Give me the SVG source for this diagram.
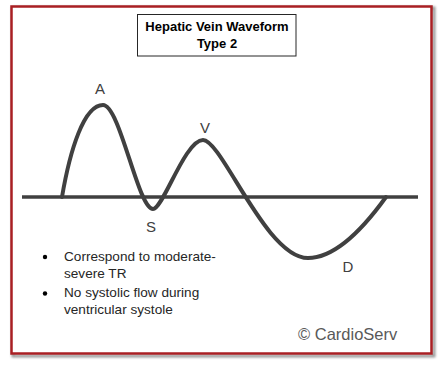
<svg xmlns="http://www.w3.org/2000/svg" width="444" height="367" viewBox="0 0 444 367">
<defs>
<style>
.lbl{font-family:"Liberation Sans",Arial,sans-serif;fill:#404040;font-size:15px;text-anchor:middle}
.body{font-family:"Liberation Sans",Arial,sans-serif;fill:#262626;font-size:13.6px}
.title{font-family:"Liberation Sans",Arial,sans-serif;fill:#000;font-size:13px;font-weight:bold;text-anchor:middle}
.wave{fill:none;stroke:#404040;stroke-width:4;stroke-linecap:round;stroke-linejoin:round}
</style>
<filter id="sh" x="-5%" y="-5%" width="110%" height="110%"><feGaussianBlur stdDeviation="1.2"/></filter>
</defs>
<rect width="444" height="367" fill="#fff"/>
<g id="frame">
<rect x="13" y="8" width="421" height="348" fill="none" stroke="#9a9a9a" stroke-width="3" filter="url(#sh)"/>
<rect x="11.5" y="6.5" width="420" height="347" fill="#fff" stroke="#a91f23" stroke-width="2.5"/>
</g>
<g id="title">
<rect x="137.5" y="14.5" width="158.5" height="41.5" fill="#fff" stroke="#262626" stroke-width="1"/>
<text class="title" x="217" y="31">Hepatic Vein Waveform</text>
<text class="title" x="217" y="47.5">Type 2</text>
</g>
<g id="connectors">
<line x1="22" y1="197" x2="418" y2="197" stroke="#404040" stroke-width="3.5"/>
<path class="wave" d="M62,197 C70,150 84,105 103,105 C120,105 138,209 153,209 C163,209 185,140 203,140 C222,140 266,258 308,258 C338,258 368,222 386,197"/>
</g>
<g id="labels">
<text class="lbl" x="100" y="94">A</text>
<text class="lbl" x="205" y="133">V</text>
<text class="lbl" x="151" y="232">S</text>
<text class="lbl" x="348" y="272">D</text>
</g>
<g id="notes">
<circle cx="45" cy="257" r="2.2" fill="#000"/>
<circle cx="45" cy="293.5" r="2.2" fill="#000"/>
<text class="body" x="64" y="261">Correspond to moderate-</text>
<text class="body" x="64" y="278">severe TR</text>
<text class="body" x="64" y="297">No systolic flow during</text>
<text class="body" x="64" y="314">ventricular systole</text>
</g>
<g id="credit">
<text x="298" y="340" font-family="Liberation Sans, Arial, sans-serif" font-size="16.5" fill="#595959">© CardioServ</text>
</g>
</svg>
